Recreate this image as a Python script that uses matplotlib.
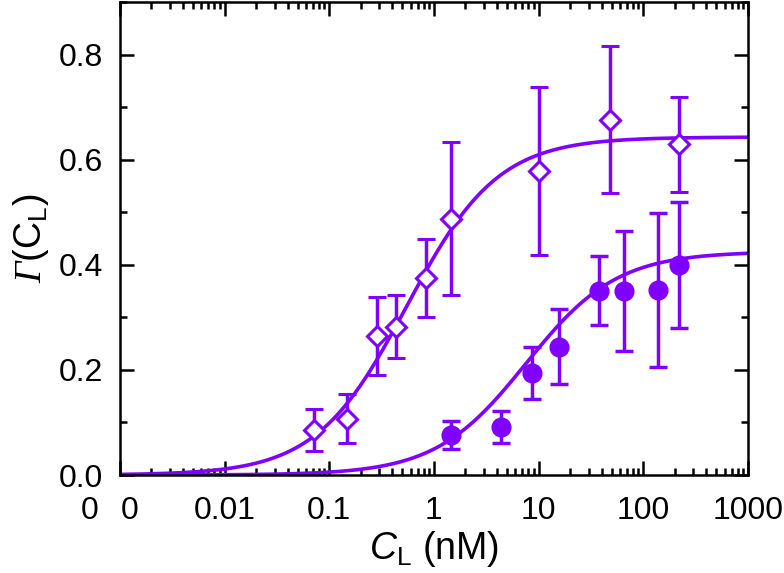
import numpy as np
import matplotlib
matplotlib.use("Agg")
import matplotlib.pyplot as plt
from matplotlib.ticker import LogLocator, NullFormatter, MultipleLocator

plt.rcParams['font.family'] = ['Liberation Sans', 'DejaVu Sans']
plt.rcParams['mathtext.fontset'] = 'custom'
plt.rcParams['mathtext.rm'] = 'Liberation Sans'
plt.rcParams['mathtext.it'] = 'Liberation Sans:italic'
plt.rcParams['mathtext.bf'] = 'Liberation Serif:italic'

# open diamonds
x_open = [0.072, 0.147, 0.285, 0.438, 0.845, 1.47, 10.1, 47.9, 218]
y_open = [0.085, 0.107, 0.265, 0.282, 0.375, 0.488, 0.578, 0.676, 0.629]
e_open = [0.040, 0.047, 0.074, 0.060, 0.075, 0.145, 0.160, 0.140, 0.090]

# filled circles
x_fill = [1.45, 4.34, 8.65, 15.6, 37.8, 65.1, 139, 218]
y_fill = [0.076, 0.091, 0.194, 0.244, 0.351, 0.350, 0.352, 0.399]
e_fill = [0.026, 0.031, 0.050, 0.071, 0.065, 0.114, 0.146, 0.120]

# Langmuir fit parameters (plateau, K in nM)
fit_open = (0.643, 0.55)
fit_fill = (0.425, 7.6)

color = '#8000ff'

fig = plt.figure(figsize=(7.84, 5.73), dpi=100)
ax = fig.add_axes([0.153, 0.171, 0.801, 0.8255])

xx = np.logspace(-3, 3, 400)
for A, K in (fit_open, fit_fill):
    ax.plot(xx, A * xx / (K + xx), color=color, lw=2.6, zorder=2)

ax.errorbar(x_open, y_open, yerr=e_open, fmt='D', ms=10.5, mfc='white', mec=color,
            mew=2.2, color=color, ecolor=color, elinewidth=2.5, capsize=6.5, capthick=2.5, zorder=3)
ax.errorbar(x_fill, y_fill, yerr=e_fill, fmt='o', ms=13.5, mfc=color, mec=color,
            color=color, ecolor=color, elinewidth=2.5, capsize=6.5, capthick=2.5, zorder=3)

ax.set_xscale('log')
ax.set_xlim(1e-3, 1e3)
ax.set_ylim(0, 0.9)

ax.set_xticks([1e-3, 1e-2, 1e-1, 1, 10, 100, 1000])
ax.set_xticklabels(['', '0.01', '0.1', '1', '10', '100', '1000'])
ax.xaxis.set_minor_locator(LogLocator(base=10, subs=np.arange(2, 10), numticks=20))
ax.xaxis.set_minor_formatter(NullFormatter())
ax.set_yticks([0, 0.2, 0.4, 0.6, 0.8])
ax.set_yticklabels(['0.0', '0.2', '0.4', '0.6', '0.8'])
ax.yaxis.set_minor_locator(MultipleLocator(0.1))

ax.tick_params(which='both', direction='in', top=True, right=True, width=1.8,
               labelsize=23, color='black')
ax.tick_params(which='major', length=10, pad=12)
ax.tick_params(axis='x', which='major', pad=15)
ax.tick_params(which='minor', length=5)
for s in ax.spines.values():
    s.set_linewidth(1.8)

# the two "0" labels at the left end of the x axis
trans, va, ha = ax.get_xaxis_text1_transform(15)
for xv in (5.1e-4, 1.25e-3):
    ax.text(xv, 0, '0', transform=trans, va=va, ha='center', fontsize=23, clip_on=False)

ax.set_xlabel(r'$C_\mathrm{L}$ (nM)', fontsize=27, labelpad=2)
ax.set_ylabel(r'$\mathbf{\Gamma}$(C$_\mathrm{L}$)', fontsize=27, labelpad=6)

fig.savefig('out.png', dpi=100)
